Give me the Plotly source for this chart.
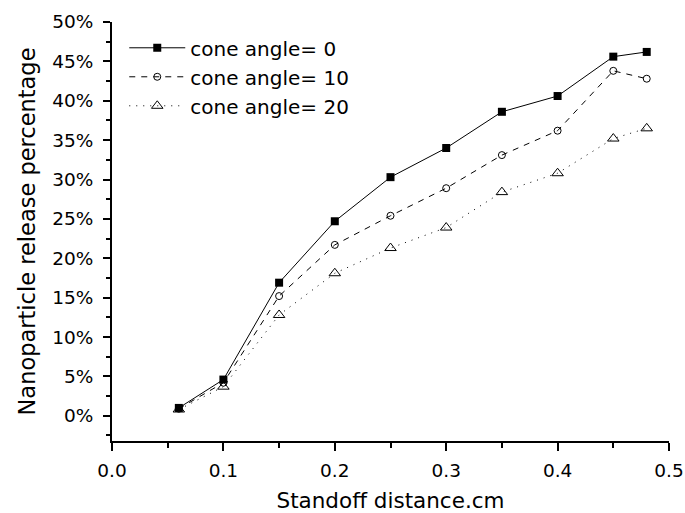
import plotly.graph_objects as go

x_vals = [0.06, 0.10, 0.15, 0.20, 0.25, 0.30, 0.35, 0.40, 0.45, 0.48]
angle0 = [0.010, 0.046, 0.169, 0.247, 0.303, 0.340, 0.386, 0.406, 0.456, 0.462]
angle10 = [0.009, 0.042, 0.152, 0.217, 0.254, 0.289, 0.331, 0.362, 0.438, 0.428]
angle20 = [0.008, 0.037, 0.128, 0.181, 0.213, 0.239, 0.284, 0.308, 0.352, 0.365]
names = ["cone angle= 0", "cone angle= 10", "cone angle= 20"]

fig = go.Figure()
fig.add_trace(go.Scatter(x=x_vals, y=angle0, name=names[0], mode="lines+markers",
                         line=dict(color="black", width=1),
                         marker=dict(symbol="square", size=8, color="black")))
fig.add_trace(go.Scatter(x=x_vals, y=angle10, name=names[1], mode="lines+markers",
                         line=dict(color="black", width=1, dash="6px,6px"),
                         marker=dict(symbol="circle-open", size=7, color="black", line=dict(width=1))))
fig.add_trace(go.Scatter(x=x_vals, y=angle20, name=names[2], mode="lines+markers",
                         line=dict(color="black", width=1, dash="1px,6px"),
                         marker=dict(symbol="triangle-up-open", size=10, color="black", line=dict(width=1))))

font = "DejaVu Sans, Liberation Sans, Arial, sans-serif"
fig.update_layout(
    width=685, height=513,
    margin=dict(l=112, r=16, t=22, b=72, autoexpand=False),
    plot_bgcolor="white", paper_bgcolor="white",
    font=dict(family=font, size=18.5, color="black"),
    showlegend=True,
    legend=dict(x=0.022, y=0.985, xanchor="left", yanchor="top",
                bgcolor="rgba(0,0,0,0)", font=dict(size=20, family=font),
                tracegroupgap=0, itemwidth=56),
    xaxis=dict(range=[0, 0.5], dtick=0.1, tick0=0, tickformat=".1f", automargin=False,
               showline=True, linecolor="black", linewidth=2, mirror=False,
               showgrid=False, zeroline=False,
               ticks="outside", ticklen=8, tickwidth=2, tickcolor="black",
               minor=dict(ticks="outside", ticklen=5, tickwidth=2, dtick=0.05, tickcolor="black", showgrid=False),
               tickfont=dict(size=18.5), ticklabelstandoff=4,
               title=dict(text="Standoff distance.cm", font=dict(size=21.5), standoff=13)),
    yaxis=dict(range=[-0.032, 0.5], dtick=0.05, tick0=0, tickformat=".0%", automargin=False,
               showline=True, linecolor="black", linewidth=2, mirror=False,
               showgrid=False, zeroline=False,
               ticks="outside", ticklen=7, tickwidth=2, tickcolor="black",
               minor=dict(ticks="outside", ticklen=4, tickwidth=2, dtick=0.025, tickcolor="black", showgrid=False),
               tickfont=dict(size=18.5), ticklabelstandoff=6,
               title=dict(text="Nanoparticle release percentage", font=dict(size=22.5), standoff=10)),
)

fig.write_html("out.html")
